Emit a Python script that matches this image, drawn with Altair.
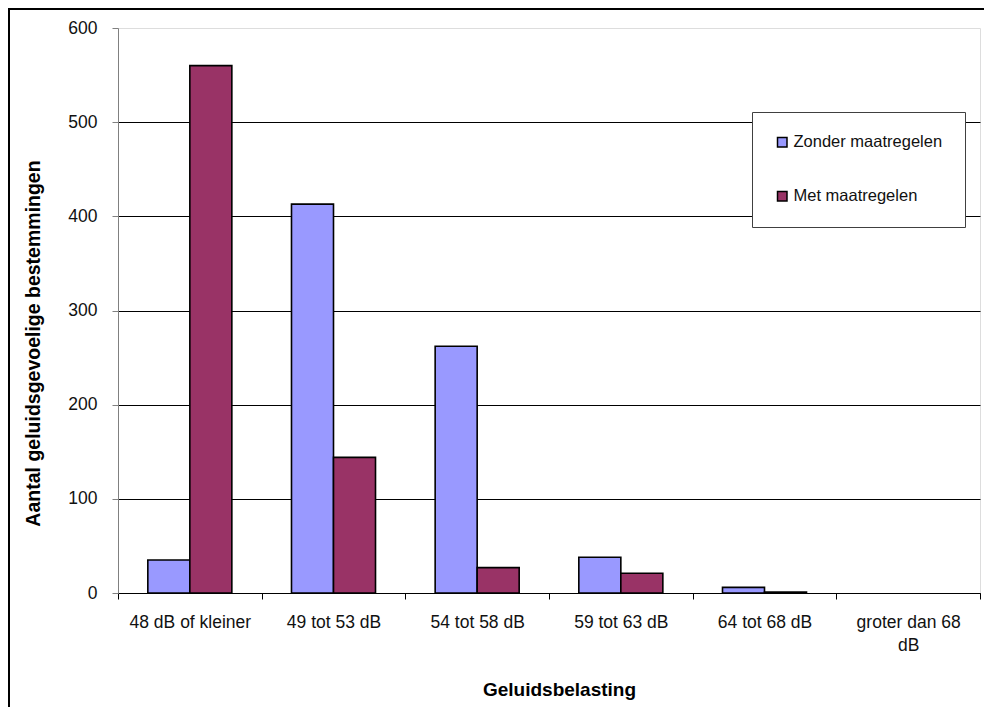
import altair as alt
import pandas as pd

categories = ["48 dB of kleiner", "49 tot 53 dB", "54 tot 58 dB",
              "59 tot 63 dB", "64 tot 68 dB", "groter dan 68 dB"]
series = ["Zonder maatregelen", "Met maatregelen"]
zonder = [35, 413, 262, 38, 6, 0]
met = [560, 144, 27, 21, 1, 0]
colors = ["#9999FF", "#993366"]
y_ticks = [0, 100, 200, 300, 400, 500, 600]

rows = []
for c, z, m in zip(categories, zonder, met):
    rows.append({"cat": c, "serie": series[0], "val": z})
    rows.append({"cat": c, "serie": series[1], "val": m})
df = pd.DataFrame(rows)

FONT = "Liberation Sans"

bars = alt.Chart(df).mark_bar(stroke="black", strokeWidth=1.6).encode(
    x=alt.X("cat:N", sort=categories,
            scale=alt.Scale(paddingInner=0, paddingOuter=0),
            axis=alt.Axis(title="Geluidsbelasting", labelAngle=0, tickBand="extent",
                          domainColor="black", tickColor="black", tickSize=6,
                          labelPadding=14, labelFontSize=17.5, labelFont=FONT,
                          labelColor="#111", labelBaseline="top", labelLineHeight=23,
                          labelExpr="datum.label == 'groter dan 68 dB' ? ['groter dan 68', 'dB'] : datum.label",
                          titleFont=FONT, titleFontSize=19, titleFontWeight="bold",
                          titleColor="black", titleX=441, titleY=96,
                          titleBaseline="middle", titleAlign="center", grid=False)),
    xOffset=alt.XOffset("serie:N", sort=series,
                        scale=alt.Scale(domain=series, paddingInner=0, paddingOuter=0.71)),
    y=alt.Y("val:Q", scale=alt.Scale(domain=[0, 600], nice=False),
            axis=alt.Axis(title="Aantal geluidsgevoelige bestemmingen", values=y_ticks,
                          domainColor="#808080", tickColor="#808080", tickSize=6,
                          labelPadding=15, labelFontSize=17.5, labelFont=FONT, labelColor="#111",
                          grid=True, gridColor="black", gridWidth=1,
                          gridOpacity={"condition": {"test": "datum.value == 600", "value": 0}, "value": 1},
                          titleFont=FONT, titleFontSize=19.5, titleFontWeight="bold",
                          titleColor="black", titleX=-85, titleY=315, titleAngle=-90,
                          titleBaseline="middle", titleAlign="center")),
    color=alt.Color("serie:N", sort=series,
                    scale=alt.Scale(domain=series, range=colors),
                    legend=alt.Legend(title=None, orient="none", legendX=634, legendY=84,
                                      padding=22, rowPadding=37, strokeColor="#404040",
                                      fillColor="white", labelFont=FONT, labelFontSize=16.5,
                                      labelColor="#111", symbolType="square", symbolSize=90,
                                      symbolStrokeColor="black", symbolStrokeWidth=1.5,
                                      symbolOpacity=1, labelOffset=3)),
    strokeOpacity=alt.condition(alt.datum.val == 0, alt.value(0), alt.value(1)),
)

one = pd.DataFrame({"k": [0]})
frame_left = alt.Chart(one).mark_rule(color="black", strokeWidth=2).encode(
    x=alt.value(-109), y=alt.value(-20), y2=alt.value(3000))
frame_top = alt.Chart(one).mark_rule(color="black", strokeWidth=2).encode(
    x=alt.value(-110), x2=alt.value(3000), y=alt.value(-19))

chart = alt.layer(bars, frame_left, frame_top).properties(
    width=862, height=565,
    autosize=alt.AutoSizeParams(type="none"),
    padding={"left": 110, "top": 20, "right": 4, "bottom": 114},
).configure_view(stroke=None).configure(background="white")

chart.save("out.html", embed_options={"renderer": "svg", "actions": False})
